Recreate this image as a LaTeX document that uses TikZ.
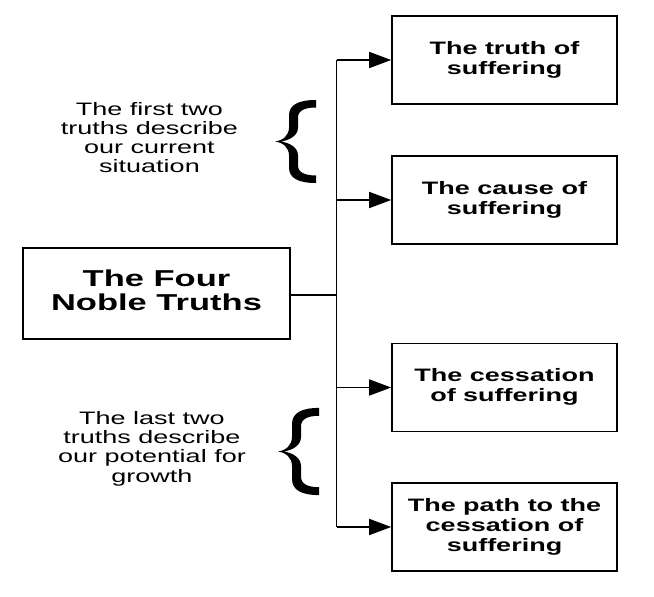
\documentclass[tikz,border=0pt]{standalone}
\usepackage{fontspec}
\setmainfont{Liberation Sans}
\usetikzlibrary{arrows.meta}
\newcommand\sxtext[1]{\scalebox{1.5}[1]{\begin{tabular}{@{}c@{}}#1\end{tabular}}}
\tikzset{
  curly/.pic={\fill (41,-41.5) .. controls (24,-41.5) and (14,-37) .. (14,-26) -- (14,-14)
      .. controls (14,-6) and (8,-1) .. (0,0) .. controls (8,1) and (14,6) .. (14,14) -- (14,26)
      .. controls (14,37) and (24,41.5) .. (41,41.5) -- (41,34)
      .. controls (30,34) and (23,31) .. (23,24) -- (23,14)
      .. controls (23,6) and (15,1.5) .. (6,0) .. controls (15,-1.5) and (23,-6) .. (23,-14) -- (23,-24)
      .. controls (23,-31) and (30,-34) .. (41,-34) -- cycle;}
}
\begin{document}
\begin{tikzpicture}[x=1pt,y=-1pt,
  box/.style={draw, line width=1.6pt, minimum width=225pt, minimum height=88pt, inner sep=0pt},
  mainbox/.style={draw, line width=1.6pt, minimum width=267pt, minimum height=91pt, inner sep=0pt,
     font=\bfseries\fontsize{23}{24}\selectfont},
  small/.style={font=\fontsize{18}{19.2}\selectfont, inner sep=0pt},
  boxtext/.style={font=\bfseries\fontsize{18}{20}\selectfont},
  link/.style={line width=1.6pt},
  arr/.style={link, -{Triangle[length=22pt,width=16pt]}}]
\useasboundingbox (0,0) rectangle (654,597);
\node[mainbox] (m) at (156.5,293.5) {\sxtext{The Four\\Noble Truths}};
\node[box, boxtext] (b1) at (504.5,60) {\sxtext{The truth of\\suffering}};
\node[box, boxtext] (b2) at (504.5,200) {\sxtext{The cause of\\suffering}};
\node[box, boxtext] (b3) at (504.5,387.5) {\sxtext{The cessation\\of suffering}};
\node[box, boxtext] (b4) at (504.5,527) {\sxtext{The path to the\\cessation of\\suffering}};
\coordinate (j) at (336.5,295);
\draw[link] (m.east |- j) -- (j);
\draw[link] (j |- b1.west) -- (j |- b4.west);
\draw[arr] (j |- b1.west) -- (b1.west);
\draw[arr] (j |- b2.west) -- (b2.west);
\draw[arr] (j |- b3.west) -- (b3.west);
\draw[arr] (j |- b4.west) -- (b4.west);
\node[small] (t1) at (149.5,140) {\sxtext{The first two\\truths describe\\our current\\situation}};
\node[small] (t2) at (152,449.5) {\sxtext{The last two\\truths describe\\our potential for\\growth}};
\pic at (275,141.5) {curly};
\pic[yscale=1.05] at (278,451.5) {curly};
\end{tikzpicture}
\end{document}
